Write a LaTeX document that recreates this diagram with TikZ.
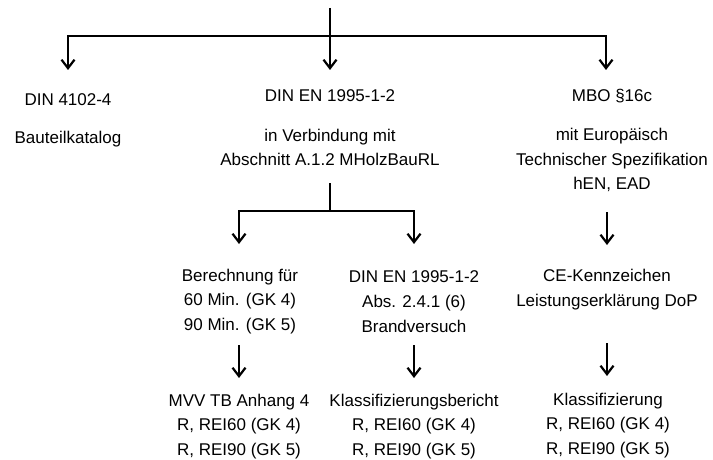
\documentclass[tikz,border=0pt]{standalone}
\usepackage{fontspec}
\setmainfont{Liberation Sans}
\usetikzlibrary{arrows.meta}
\begin{document}
\begin{tikzpicture}[x=1pt,y=-1pt,
  txt/.style={align=center,inner sep=0pt,font=\fontsize{17}{24.8}\selectfont},
  ln/.style={line width=2.2pt},
  arr/.style={line width=2.2pt,-{Straight Barb[length=8.5pt,width=13pt]}},
  darr/.style={line width=2.2pt,{Straight Barb[length=8.5pt,width=13pt]}-{Straight Barb[length=8.5pt,width=13pt]}}]
\useasboundingbox (0,0) rectangle (713,460);
% texts
\node[txt] (din4102) at (68,100) {DIN 4102-4};
\node[txt] (katalog) at (68,139) {Bauteilkatalog};
\node[txt] (din1995) at (330,96) {DIN EN 1995-1-2};
\node[txt] (verb) at (330,147.5) {in Verbindung mit\\Abschnitt A.1.2 MHolzBauRL};
\node[txt] (mbo) at (612,96) {MBO §16c};
\node[txt] (euro) at (612,160) {mit Europäisch\\Technischer Spezifikation\\hEN, EAD};
\node[txt] (berech) at (240,301.5) {Berechnung für\\60 Min. (GK 4)\\90 Min. (GK 5)};
\node[txt] (brand) at (414,301.5) {DIN EN 1995-1-2\\Abs. 2.4.1 (6)\\Brandversuch};
\node[txt] (ce) at (607,289.5) {CE-Kennzeichen\\Leistungserklärung DoP};
\node[txt] (mvv) at (239,426.5) {MVV TB Anhang 4\\R, REI60 (GK 4)\\R, REI90 (GK 5)};
\node[txt] (kber) at (414,426.5) {Klassifizierungsbericht\\R, REI60 (GK 4)\\R, REI90 (GK 5)};
\node[txt] (kl) at (608,425.5) {Klassifizierung\\R, REI60 (GK 4)\\R, REI90 (GK 5)};
% connector points
\coordinate (top) at (330,8);
\coordinate (jl) at (68,36);
\coordinate (jr) at (606,36);
\coordinate (el) at (68,70);
\coordinate (em) at (330,70);
\coordinate (er) at (606,70);
\coordinate (mtop) at (330,183);
\coordinate (mjoin) at (330,211);
\coordinate (jml) at (239,211);
\coordinate (jmr) at (414,211);
\coordinate (eml) at (239,244);
\coordinate (emr) at (414,244);
\coordinate (rs) at (607,212);
\coordinate (re) at (607,245);
\coordinate (bl1) at (239,345);
\coordinate (bl2) at (239,378);
\coordinate (bm1) at (414,345);
\coordinate (bm2) at (414,378);
\coordinate (br1) at (607,343);
\coordinate (br2) at (607,376);
% connectors
\draw[arr] (top) -- (em);
\draw[darr] (el) -- (jl) -- (jr) -- (er);
\draw[ln] (mtop) -- (mjoin);
\draw[darr] (eml) -- (jml) -- (jmr) -- (emr);
\draw[arr] (rs) -- (re);
\draw[arr] (bl1) -- (bl2);
\draw[arr] (bm1) -- (bm2);
\draw[arr] (br1) -- (br2);
\end{tikzpicture}
\end{document}
